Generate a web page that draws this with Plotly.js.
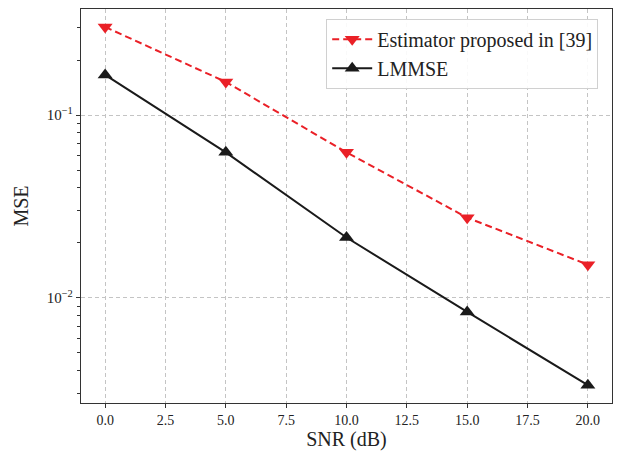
<!DOCTYPE html>
<html><head><meta charset="utf-8">
<script src="https://cdn.plot.ly/plotly-3.0.1.min.js"></script>
<style>body{margin:0;background:#fff}#c{width:618px;height:452px}</style>
</head><body><div id="c"></div>
<script>
const snr = [0, 5, 10, 15, 20];
const mseProposed = [0.304, 0.152, 0.0626, 0.0275, 0.0152];
const mseLMMSE = [0.166, 0.0626, 0.0214, 0.00838, 0.00333];
const seriesNames = ['Estimator proposed in [39]', 'LMMSE'];
const xTicks = [0, 2.5, 5, 7.5, 10, 12.5, 15, 17.5, 20];
const xTickText = ['0.0', '2.5', '5.0', '7.5', '10.0', '12.5', '15.0', '17.5', '20.0'];
const yTicks = [0.01, 0.1];
const yTickText = ['10<sup>−2</sup>', '10<sup>−1</sup>'];
const yMinor = [0.003, 0.004, 0.005, 0.006, 0.007, 0.008, 0.009, 0.02, 0.03, 0.04, 0.05, 0.06, 0.07, 0.08, 0.09, 0.2, 0.3];

const font = 'Liberation Serif, DejaVu Serif, serif';
const traces = [
  {x: snr, y: mseProposed, name: seriesNames[0], mode: 'lines+markers', type: 'scatter',
   line: {color: '#ea2027', width: 2, dash: '7px,4px'},
   marker: {symbol: 'triangle-down', size: 13, color: '#ea2027'}},
  {x: snr, y: mseLMMSE, name: seriesNames[1], mode: 'lines+markers', type: 'scatter',
   line: {color: '#1a1a1a', width: 2},
   marker: {symbol: 'triangle-up', size: 13, color: '#1a1a1a'}}
];
const axisCommon = {
  showline: true, linecolor: '#333', linewidth: 1.2, mirror: true,
  ticks: 'outside', ticklen: 4, tickcolor: '#333',
  showgrid: true, gridcolor: '#c4c4c4', griddash: '4px,3px', gridwidth: 1,
  zeroline: false, tickfont: {family: font, size: 14, color: '#222'}
};
const layout = {
  width: 618, height: 452,
  margin: {l: 81, r: 6, t: 9, b: 49},
  paper_bgcolor: '#fff', plot_bgcolor: '#fff',
  font: {family: font, color: '#222'},
  showlegend: true,
  legend: {x: 0.974, y: 0.975, xanchor: 'right', yanchor: 'top',
    bordercolor: '#d0d0d0', borderwidth: 1, bgcolor: 'rgba(255,255,255,0.9)',
    font: {family: font, size: 20, color: '#222'}, itemwidth: 40, tracegroupgap: 0},
  xaxis: Object.assign({}, axisCommon, {
    range: [-1, 21], tickmode: 'array', tickvals: xTicks, ticktext: xTickText,
    title: {text: 'SNR (dB)', font: {family: font, size: 20, color: '#222'}, standoff: 4}
  }),
  yaxis: Object.assign({}, axisCommon, {
    type: 'log', range: [-2.575, -0.419], tickmode: 'array', tickvals: yTicks, ticktext: yTickText,
    tickfont: {family: font, size: 15, color: '#222'},
    minor: {tickmode: 'array', tickvals: yMinor, ticks: 'outside', ticklen: 2.5, tickcolor: '#333', showgrid: false},
    title: {text: 'MSE', font: {family: font, size: 20, color: '#222'}, standoff: 12}
  })
};
Plotly.newPlot('c', traces, layout, {staticPlot: true, displayModeBar: false});
</script></body></html>
